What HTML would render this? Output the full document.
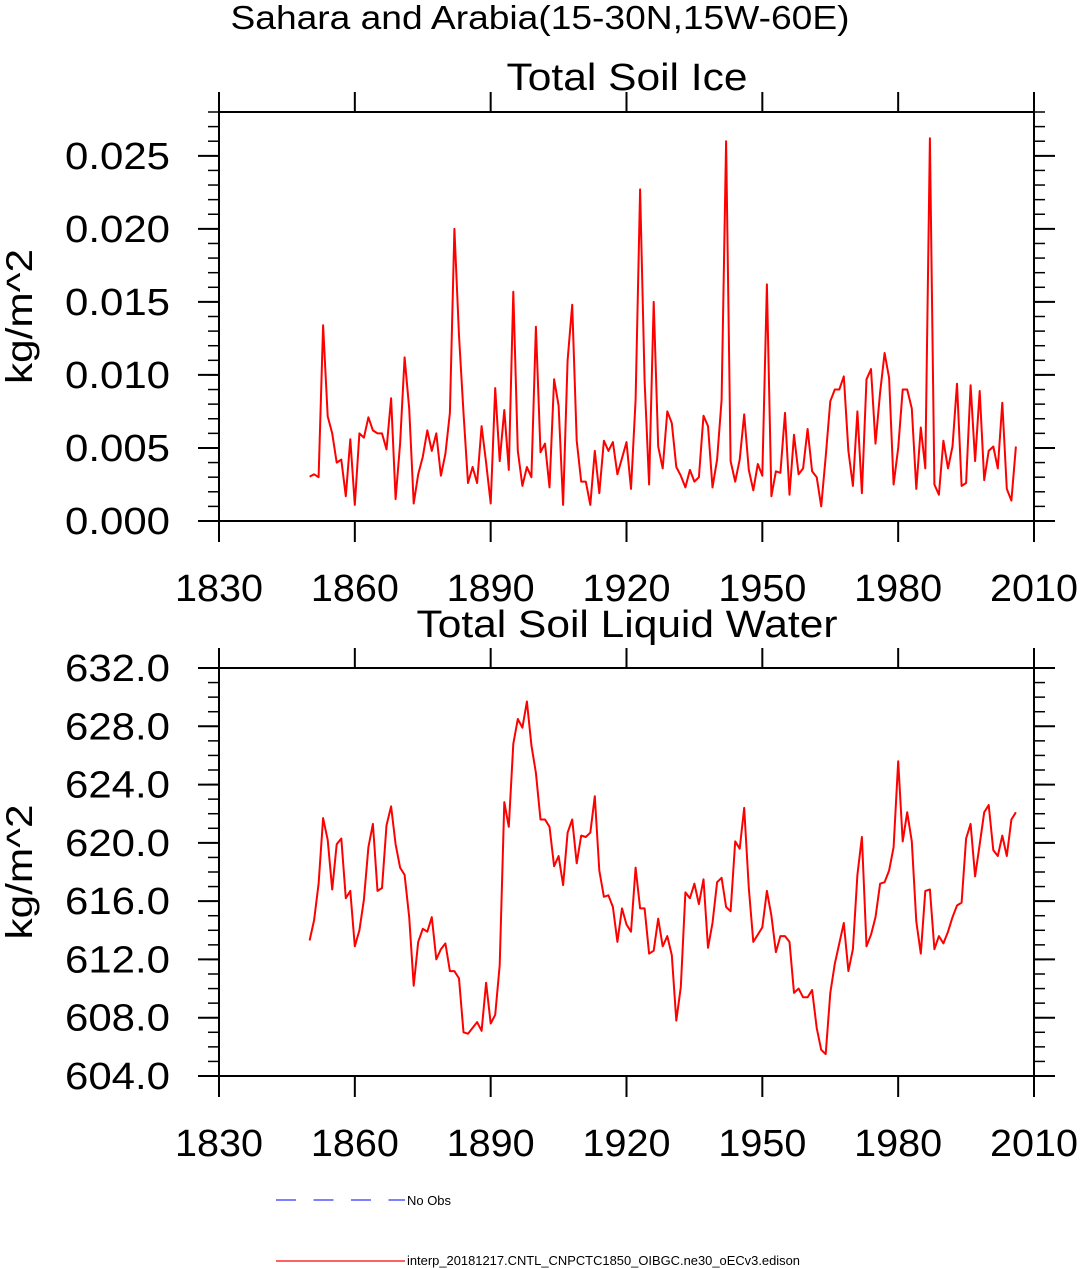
<!DOCTYPE html>
<html><head><meta charset="utf-8"><style>
html,body{margin:0;padding:0;background:#fff;}
svg{display:block;font-family:"Liberation Sans",Arial,sans-serif;}
</style></head><body>
<svg id="chart" width="1080" height="1268" viewBox="0 0 1080 1268" xmlns="http://www.w3.org/2000/svg">
<text x="540" y="29" font-size="33" text-anchor="middle" textLength="619" lengthAdjust="spacingAndGlyphs">Sahara and Arabia(15-30N,15W-60E)</text>
<g id="p1"></g>
<g id="p2"></g>
<g>
<line x1="276" y1="1200" x2="405" y2="1200" stroke="#3333ff" stroke-width="1.2" stroke-dasharray="20,17.5"/>
<text x="407" y="1205" font-size="13" textLength="44" lengthAdjust="spacingAndGlyphs">No Obs</text>
<line x1="276" y1="1261" x2="405" y2="1261" stroke="#ff0000" stroke-width="1.2"/>
<text x="407" y="1265" font-size="13" textLength="393" lengthAdjust="spacingAndGlyphs">interp_20181217.CNTL_CNPCTC1850_OIBGC.ne30_oECv3.edison</text>
</g>
</svg>
<script>
const startYear = 1850;
const xTicks = [1830,1860,1890,1920,1950,1980,2010];
const iceTicks = [0.000,0.005,0.010,0.015,0.020,0.025];
const iceTickLabels = ["0.000","0.005","0.010","0.015","0.020","0.025"];
const waterTicks = [604,608,612,616,620,624,628,632];
const waterTickLabels = ["604.0","608.0","612.0","616.0","620.0","624.0","628.0","632.0"];
const iceValues = [0.00304,0.0032,0.003,0.0134,0.00716,0.006,0.0040,0.0042,0.0017,0.0056,
0.0011,0.006,0.0057,0.0071,0.0062,0.006,0.006,0.0049,0.0084,0.0015,
0.0053,0.0112,0.0077,0.0012,0.0032,0.0044,0.0062,0.0048,0.006,0.0031,
0.0046,0.0074,0.0200,0.0127,0.0074,0.0026,0.0037,0.0026,0.0065,0.004,
0.0012,0.0091,0.0041,0.0076,0.0035,0.0157,0.0048,0.0024,0.0037,0.003,
0.0133,0.0047,0.0053,0.0023,0.0097,0.0079,0.0011,0.011,0.0148,0.0055,
0.0027,0.0027,0.0011,0.0048,0.0019,0.0055,0.0048,0.0054,0.0032,0.0043,
0.0054,0.0022,0.0083,0.0227,0.0096,0.0025,0.0150,0.0051,0.0036,0.0075,
0.0067,0.0037,0.0031,0.0023,0.0035,0.0027,0.003,0.0072,0.0065,0.0023,
0.0042,0.0083,0.0260,0.0041,0.0027,0.0042,0.0073,0.0035,0.0021,0.0039,
0.0031,0.0162,0.0017,0.0034,0.0033,0.0074,0.0018,0.0059,0.0032,0.0036,
0.0063,0.0034,0.003,0.001,0.0044,0.0082,0.009,0.009,0.0099,0.0048,
0.0024,0.0075,0.0019,0.0097,0.0104,0.0053,0.0088,0.0115,0.0098,0.0025,
0.005,0.009,0.009,0.0077,0.0022,0.0064,0.0036,0.0262,0.0025,0.0018,
0.0055,0.0036,0.0051,0.0094,0.0024,0.0026,0.0093,0.0041,0.0089,0.0028,
0.0048,0.0051,0.0036,0.0081,0.0022,0.0014,0.0051];
const waterValues = [613.3,614.7,617.2,621.7,620.2,616.8,619.9,620.3,616.2,616.7,
612.9,614.0,616.1,619.7,621.3,616.7,616.9,621.2,622.5,619.9,
618.3,617.8,614.9,610.2,613.2,614.1,613.9,614.9,612.0,612.7,
613.1,611.2,611.2,610.7,607.0,606.9,607.3,607.7,607.1,610.4,
607.6,608.2,611.6,622.8,621.1,626.8,628.5,627.9,629.7,626.7,
624.8,621.6,621.6,621.1,618.4,619.1,617.1,620.7,621.6,618.6,
620.5,620.4,620.7,623.2,618.1,616.3,616.4,615.6,613.2,615.5,
614.4,613.9,618.3,615.5,615.5,612.4,612.6,614.8,612.9,613.6,
612.3,607.8,610.1,616.6,616.2,617.2,615.8,617.5,612.8,614.5,
617.3,617.6,615.6,615.3,620.1,619.6,622.4,616.9,613.2,613.7,
614.2,616.7,615.0,612.5,613.6,613.6,613.2,609.7,610.0,609.4,
609.4,609.9,607.3,605.8,605.5,609.7,611.7,613.1,614.5,611.2,
612.7,617.8,620.4,612.9,613.7,614.9,617.2,617.3,618.1,619.7,
625.6,620.1,622.1,620.1,614.6,612.4,616.7,616.8,612.7,613.6,
613.1,613.9,614.9,615.7,615.9,620.3,621.3,617.7,619.9,622.1,
622.6,619.5,619.1,620.5,619.1,621.6,622.1];

const NS="http://www.w3.org/2000/svg";
function mk(parent, tag, attrs){const e=document.createElementNS(NS,tag);for(const k in attrs)e.setAttribute(k,attrs[k]);parent.appendChild(e);return e;}
const X0=219,X1=1034,xMin=1830,xMax=2010;
function xs(yr){return X0+(yr-xMin)/(xMax-xMin)*(X1-X0);}

function panel(g, top, bottom, yMin, yMax, ticks, labels, minorStep, values, title, titleY, titleLen, key){
  const ys=v=>bottom-(v-yMin)/(yMax-yMin)*(bottom-top);
  const t=mk(g,'text',{x:627,y:titleY,'font-size':38,'text-anchor':'middle',textLength:titleLen,lengthAdjust:'spacingAndGlyphs'});
  t.textContent=title;
  
  
  const box=mk(g,'rect',{x:X0,y:top,width:X1-X0,height:bottom-top,fill:'none',stroke:'#000','stroke-width':2});
  
  
  const nMin=Math.round((yMax-yMin)/minorStep);
  for(let i=0;i<=nMin;i++){const y=ys(yMin+i*minorStep);
    mk(g,'line',{x1:X0-11,y1:y,x2:X0,y2:y,stroke:'#000','stroke-width':1.5});
    mk(g,'line',{x1:X1,y1:y,x2:X1+11,y2:y,stroke:'#000','stroke-width':1.5});}
  ticks.forEach((v,i)=>{const y=ys(v);
    mk(g,'line',{x1:X0-21,y1:y,x2:X0,y2:y,stroke:'#000','stroke-width':2});
    mk(g,'line',{x1:X1,y1:y,x2:X1+21,y2:y,stroke:'#000','stroke-width':2});
    const l=mk(g,'text',{x:170,y:y+13,'font-size':38,'text-anchor':'end',textLength:105,lengthAdjust:'spacingAndGlyphs'});
    l.textContent=labels[i];
    
    
  });
  xTicks.forEach(yr=>{const x=xs(yr);
    mk(g,'line',{x1:x,y1:top-20,x2:x,y2:top,stroke:'#000','stroke-width':2});
    mk(g,'line',{x1:x,y1:bottom,x2:x,y2:bottom+21,stroke:'#000','stroke-width':2});
    const l=mk(g,'text',{x:x,y:bottom+80,'font-size':38,'text-anchor':'middle',textLength:88,lengthAdjust:'spacingAndGlyphs'});
    l.textContent=String(yr);
    
    
  });
  const yt=mk(g,'text',{x:0,y:0,'font-size':37,'text-anchor':'middle',textLength:135,lengthAdjust:'spacingAndGlyphs',transform:`translate(32,${(top+bottom)/2}) rotate(-90)`});
  yt.textContent='kg/m^2';
  
  
  const pts=values.map((v,i)=>xs(startYear+i).toFixed(1)+','+ys(v).toFixed(1)).join(' ');
  const pl=mk(g,'polyline',{points:pts,fill:'none',stroke:'#ff0000','stroke-width':2,'stroke-linejoin':'round'});
  
  
}
panel(document.getElementById('p1'),112,521,0,0.028,iceTicks,iceTickLabels,0.001,iceValues,'Total Soil Ice',90,241,'ice');
panel(document.getElementById('p2'),668,1076,604,632,waterTicks,waterTickLabels,1,waterValues,'Total Soil Liquid Water',637,421,'water');
</script>
</body></html>
